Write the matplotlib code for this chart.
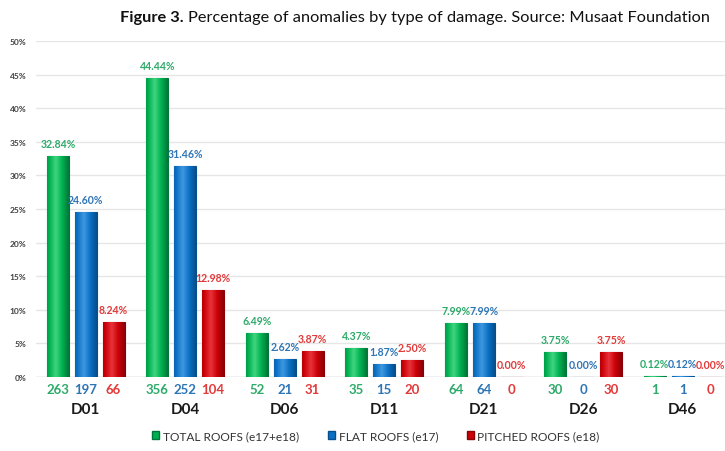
import matplotlib
matplotlib.use("Agg")
import matplotlib.pyplot as plt
import numpy as np
from matplotlib.patches import Patch
from matplotlib.colors import LinearSegmentedColormap

categories = ["D01", "D04", "D06", "D11", "D21", "D26", "D46"]
series_names = ["TOTAL ROOFS (e17+e18)", "FLAT ROOFS (e17)", "PITCHED ROOFS (e18)"]
total_pct = [32.84, 44.44, 6.49, 4.37, 7.99, 3.75, 0.12]
flat_pct = [24.60, 31.46, 2.62, 1.87, 7.99, 0.00, 0.12]
pitched_pct = [8.24, 12.98, 3.87, 2.50, 0.00, 3.75, 0.00]
total_n = [263, 356, 52, 35, 64, 30, 1]
flat_n = [197, 252, 21, 15, 64, 0, 1]
pitched_n = [66, 104, 31, 20, 0, 30, 0]
yticks = [0, 5, 10, 15, 20, 25, 30, 35, 40, 45, 50]

bar_colors = ["#00B050", "#0A70C4", "#CC0008"]
light_colors = ["#3FD57F", "#3F98E0", "#E8333A"]
edge_colors = ["#00773A", "#064F8C", "#8A0007"]
text_colors = ["#2EAA6A", "#2E75B6", "#E23A3A"]

plt.rcParams['font.family'] = ['Lato', 'DejaVu Sans']

fig = plt.figure(figsize=(7.25, 4.52), dpi=100)
ax = fig.add_axes([36/725, 74/452, 689/725, 336/452])

x = np.arange(len(categories))
w = 0.22
sp = 0.28
pcts = [total_pct, flat_pct, pitched_pct]
cnts = [total_n, flat_n, pitched_n]

ax.set_xlim(-0.5, 6.425)
ax.set_ylim(0, 50)

grad = np.linspace(0, 1, 64)
prof = 1 - np.abs(grad - 0.4) / 0.6
prof = np.clip(prof, 0, 1)[None, :]

for i in range(3):
    xs = x + (i - 1) * sp
    cmap = LinearSegmentedColormap.from_list(f"c{i}", [edge_colors[i], bar_colors[i], light_colors[i]])
    bars = ax.bar(xs, pcts[i], width=w, color=bar_colors[i], edgecolor=edge_colors[i],
                  linewidth=0.8, zorder=3)
    for b in bars:
        h = b.get_height()
        if h > 0:
            im = ax.imshow(prof, cmap=cmap, aspect="auto", vmin=0, vmax=1,
                           extent=(b.get_x(), b.get_x() + b.get_width(), 0, h),
                           zorder=3.5, interpolation="bilinear")
            im.set_clip_path(b)
    for xi, v, n in zip(xs, pcts[i], cnts[i]):
        ax.annotate(f"{v:.2f}%", (xi, v), xytext=(0, 5), textcoords="offset points",
                    ha="center", va="bottom", fontsize=7.6, fontweight="bold",
                    color=text_colors[i], zorder=4)
        ax.annotate(f"{n}", (xi, 0), xytext=(0, -4), textcoords="offset points",
                    ha="center", va="top", fontsize=9.5, fontweight="bold",
                    color=text_colors[i])

ax.set_xlim(-0.5, 6.425)
ax.set_ylim(0, 50)

for xi, c in zip(x, categories):
    ax.annotate(c, (xi, 0), xytext=(0, -18), textcoords="offset points",
                ha="center", va="top", fontsize=11, fontweight="bold", color="#1a1a1a")

ax.set_yticks(yticks)
ax.set_yticklabels([f"{t}%" for t in yticks], fontsize=6, fontweight="bold", color="#404040")
ax.set_xticks([])
ax.tick_params(axis="y", length=0, pad=7)
ax.grid(axis="y", color="#E6E6E6", linewidth=1, zorder=0)
for s in ax.spines.values():
    s.set_visible(False)
ax.axhline(0, color="#D0D0D0", linewidth=1, zorder=2)

handles = [Patch(facecolor=bar_colors[i], edgecolor=edge_colors[i]) for i in range(3)]
fig.legend(handles, series_names, loc="center", bbox_to_anchor=(376/725, 1 - 437/452),
           ncol=3, frameon=False, fontsize=8.6, handlelength=0.6, handleheight=0.6,
           handletextpad=0.3, columnspacing=2.4, labelcolor="#333333")

t1 = fig.text(120/725, 1 - 18/452, "Figure 3.", ha="left", va="center", fontsize=11.8,
              fontweight="bold", color="#111111")
fig.canvas.draw()
bb = t1.get_window_extent()
fig.text((bb.x1 + 4) / 725, 1 - 18/452, "Percentage of anomalies by type of damage. Source: Musaat Foundation",
         ha="left", va="center", fontsize=11.8, color="#111111")

fig.savefig("out.png", dpi=100)
